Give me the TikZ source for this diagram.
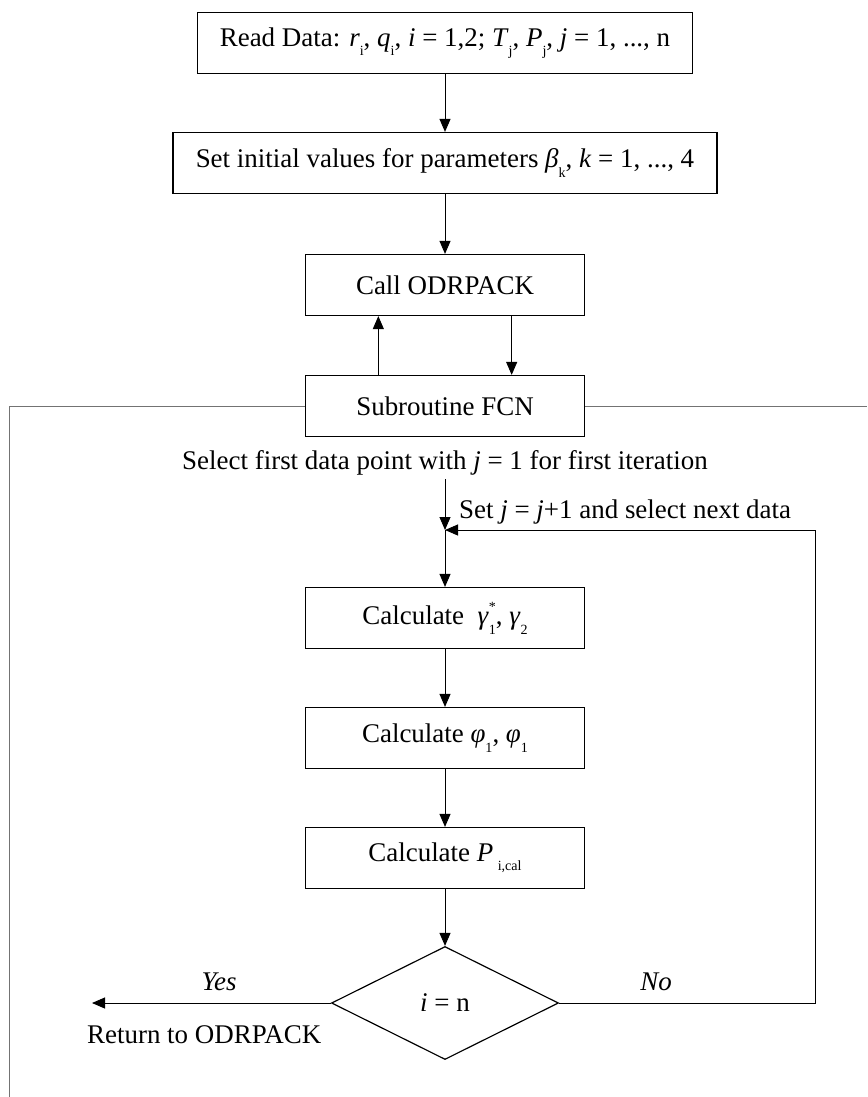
\documentclass[tikz,border=0pt]{standalone}
\usepackage{fontspec}
\setmainfont{Liberation Serif}
\usetikzlibrary{arrows.meta,shapes.geometric}
\newcommand{\lsub}[1]{% small upright subscript, set low as in the figure
  \raisebox{-0.35em}{\fontsize{12}{12}\selectfont #1}}
\newcommand{\lsubsup}[2]{% subscript with a superscript stacked above it
  \rlap{\raisebox{0.5em}{\fontsize{12}{12}\selectfont #2}}\lsub{#1}}

\begin{document}
\begin{tikzpicture}[x=0.03cm,y=-0.03cm,
  font=\fontsize{23}{27}\selectfont,
  box/.style={draw, line width=1pt, minimum height=1.83cm, inner sep=0pt},
  link/.style={line width=0.8pt, -{Triangle[length=0.39cm,width=0.33cm]}},
  frame/.style={line width=0.8pt, black!55}]
  \useasboundingbox (0,0) rectangle (867,1097);
  \node[box, minimum width=14.85cm] (read) at (445,43)
    {Read Data: \textit{r}\lsub{i}, \textit{q}\lsub{i}, \textit{i} = 1,2; \textit{T}\lsub{j}, \textit{P}\lsub{j}, \textit{j} = 1, ..., n};
  \node[box, minimum width=16.32cm] (init) at (445,163)
    {Set initial values for parameters \textit{β}\lsub{k}, \textit{k} = 1, ..., 4};
  \node[box, minimum width=8.37cm] (odr) at (445,285) {Call ODRPACK};
  \node[box, minimum width=8.37cm] (fcn) at (445,406) {Subroutine FCN};
  \node (sel) at (445,463) {Select first data point with \textit{j} = 1 for first iteration};
  \coordinate (join) at (445,530);
  \node[anchor=west] (next) at (455,512) {Set \textit{j} = \textit{j}+1 and select next data};
  \node[box, minimum width=8.37cm] (gam) at (445,618)
    {Calculate~ \textit{γ}\lsubsup{1}{*}, \textit{γ}\lsub{2}};
  \node[box, minimum width=8.37cm] (phi) at (445,738)
    {Calculate \textit{φ}\lsub{1}, \textit{φ}\lsub{1}};
  \node[box, minimum width=8.37cm] (pcal) at (445,858)
    {Calculate \textit{P}\,\lsub{i,cal}};
  \node[draw, diamond, line width=1pt, minimum width=6.81cm, minimum height=3.39cm,
    inner sep=0pt] (test) at (445,1003) {\textit{i} = n};
  \coordinate (back) at (815,1003);
  \coordinate (ret) at (92,1003);
  \coordinate (lft) at (9,1097);
  \coordinate (rgt) at (867,406);
  \node (yes) at (219,982) {\textit{Yes}};
  \node (no) at (656,982) {\textit{No}};
  \node[anchor=west] (retodr) at (83,1035) {Return to ODRPACK};
  \draw[link] (read) -- (init);
  \draw[link] (init) -- (odr);
  \draw[link] ([xshift=-2cm]fcn.north) -- ([xshift=-2cm]odr.south);
  \draw[link] ([xshift=2cm]odr.south) -- ([xshift=2cm]fcn.north);
  \draw[frame] (fcn.west) -| (lft);
  \draw[frame] (fcn.east) -- (rgt);
  \draw[link] (sel.south) -- (join);
  \draw[link] (join) -- (gam.north);
  \draw[link] (gam) -- (phi);
  \draw[link] (phi) -- (pcal);
  \draw[link] (pcal) -- (test);
  \draw[link] (test.east) -- (back) |- (join);
  \draw[link] (test.west) -- (ret);
\end{tikzpicture}
\end{document}
